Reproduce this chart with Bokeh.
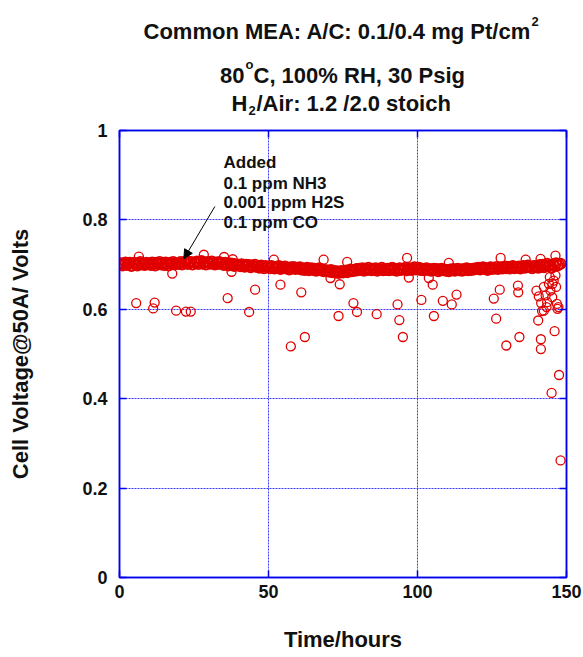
from bokeh.plotting import figure
from bokeh.layouts import column
from bokeh.models import FixedTicker, LinearAxis, Label, Arrow, NormalHead, Range1d
from bokeh.embed import file_html
from bokeh.resources import INLINE
import numpy as np

# ---------------- data ----------------
# dense logged trace, one reading every half hour (0 ... 148 h)
band_hours = np.arange(0, 148.5, 0.5)
band_volts = [
    0.700, 0.703, 0.698, 0.702, 0.705, 0.699, 0.701, 0.704, 0.697, 0.702, 0.704, 0.700, 0.698, 0.703, 0.706, 0.700, 0.702, 0.699, 0.704, 0.701,
    0.703, 0.699, 0.705, 0.701, 0.698, 0.704, 0.702, 0.706, 0.700, 0.703, 0.699, 0.705, 0.702, 0.698, 0.704, 0.701, 0.706, 0.700, 0.703, 0.702,
    0.702, 0.706, 0.700, 0.705, 0.703, 0.708, 0.701, 0.704, 0.706, 0.700, 0.705, 0.703, 0.707, 0.701, 0.704, 0.708, 0.702, 0.705, 0.700, 0.706,
    0.705, 0.702, 0.707, 0.703, 0.700, 0.705, 0.702, 0.706, 0.701, 0.703, 0.699, 0.704, 0.701, 0.698, 0.703, 0.700, 0.702, 0.697, 0.701, 0.699,
    0.700, 0.696, 0.701, 0.698, 0.695, 0.700, 0.697, 0.699, 0.694, 0.698, 0.696, 0.700, 0.695, 0.697, 0.693, 0.698, 0.696, 0.692, 0.697, 0.695,
    0.696, 0.692, 0.697, 0.694, 0.691, 0.695, 0.693, 0.697, 0.690, 0.694, 0.692, 0.696, 0.691, 0.693, 0.689, 0.694, 0.692, 0.695, 0.690, 0.692,
    0.691, 0.694, 0.689, 0.692, 0.688, 0.691, 0.693, 0.687, 0.690, 0.692, 0.688, 0.691, 0.686, 0.689, 0.692, 0.687, 0.689, 0.685, 0.688, 0.686,
    0.687, 0.684, 0.688, 0.683, 0.686, 0.682, 0.685, 0.681, 0.684, 0.686, 0.682, 0.685, 0.687, 0.683, 0.686, 0.689, 0.685, 0.688, 0.686, 0.690,
    0.687, 0.691, 0.688, 0.692, 0.686, 0.690, 0.688, 0.693, 0.689, 0.687, 0.691, 0.688, 0.692, 0.686, 0.690, 0.689, 0.693, 0.687, 0.690, 0.688,
    0.691, 0.687, 0.690, 0.693, 0.688, 0.691, 0.686, 0.690, 0.692, 0.688, 0.691, 0.689, 0.693, 0.687, 0.690, 0.692, 0.688, 0.691, 0.694, 0.689,
    0.690, 0.693, 0.688, 0.691, 0.687, 0.690, 0.692, 0.688, 0.690, 0.686, 0.689, 0.691, 0.687, 0.690, 0.685, 0.688, 0.691, 0.687, 0.689, 0.686,
    0.688, 0.685, 0.689, 0.687, 0.690, 0.686, 0.688, 0.691, 0.687, 0.689, 0.686, 0.690, 0.688, 0.692, 0.687, 0.690, 0.688, 0.691, 0.689, 0.692,
    0.690, 0.693, 0.689, 0.691, 0.694, 0.690, 0.692, 0.688, 0.691, 0.694, 0.690, 0.693, 0.691, 0.695, 0.690, 0.692, 0.694, 0.691, 0.693, 0.696,
    0.692, 0.695, 0.691, 0.694, 0.697, 0.692, 0.695, 0.693, 0.696, 0.691, 0.694, 0.697, 0.693, 0.695, 0.698, 0.694, 0.696, 0.692, 0.697, 0.695,
    0.697, 0.693, 0.699, 0.695, 0.700, 0.694, 0.698, 0.702, 0.696, 0.699, 0.693, 0.701, 0.697, 0.703, 0.698, 0.700, 0.702,
]

# scattered readings away from the main trace
out_hours = [
    5.6, 11.8, 11.3, 17.7, 19.0, 22.3, 23.9, 36.3, 37.6, 43.5, 45.5, 54.0, 57.5, 61.0, 62.2,
    70.8, 73.5, 73.9, 78.5, 79.7, 86.3, 93.3, 93.9, 95.1, 97.1, 101.3, 103.8, 105.1, 105.5,
    108.5, 111.5, 113.1, 125.6, 126.4, 127.6, 129.8, 133.7, 133.8, 134.2, 139.9, 140.5, 140.7,
    141.4, 141.4, 141.5, 141.8, 142.4, 143.0, 143.3, 143.5, 144.1, 144.4, 144.6, 145.0, 145.2,
    145.3, 145.7, 146.0, 146.3, 146.5, 146.8, 147.3, 147.5, 148.0, 142.4, 147.0,
    6.5, 28.3, 35.1, 38.0, 51.8, 68.5, 76.4, 96.5, 110.5, 127.9, 136.3, 141.3, 146.3,
]
out_volts = [
    0.614, 0.615, 0.602, 0.680, 0.597, 0.595, 0.595, 0.625, 0.684, 0.594, 0.644, 0.655, 0.517, 0.638, 0.538,
    0.670, 0.585, 0.656, 0.614, 0.594, 0.589, 0.611, 0.576, 0.538, 0.671, 0.621, 0.670, 0.655, 0.585,
    0.619, 0.611, 0.633, 0.624, 0.579, 0.644, 0.519, 0.653, 0.638, 0.538, 0.642, 0.575, 0.629,
    0.533, 0.511, 0.614, 0.596, 0.650, 0.631, 0.605, 0.616, 0.657, 0.672, 0.642, 0.413, 0.627,
    0.657, 0.664, 0.551, 0.676, 0.650, 0.612, 0.605, 0.453, 0.262, 0.597, 0.601,
    0.718, 0.722, 0.717, 0.712, 0.711, 0.711, 0.706, 0.715, 0.704, 0.715, 0.711, 0.713, 0.720,
]

x_ticks = [0, 50, 100, 150]
x_tick_labels = ["0", "50", "100", "150"]
y_ticks = [0, 0.2, 0.4, 0.6, 0.8, 1]
y_tick_labels = ["0", "0.2", "0.4", "0.6", "0.8", "1"]

x_title = "Time/hours"
y_title = "Cell Voltage@50A/ Volts"
note_lines = ["Added", "0.1 ppm NH3", "0.001 ppm H2S", "0.1 ppm CO"]

# ---------------- styling ----------------
FONT = "Liberation Sans"
BLUE = "#0000ee"
GRID = "#3a3aff"
RED = "#e00000"
INK = "#111111"
LEFT, RIGHT = 119, 17
TITLE_H = 119

# ---- title block (own small figure; x in canvas pixels, y in pixels from top) ----
t = figure(width=583, height=TITLE_H, x_range=Range1d(LEFT, 583 - RIGHT),
           y_range=Range1d(TITLE_H, 0),
           output_backend="svg", toolbar_location=None, x_axis_type=None, y_axis_type=None,
           min_border_left=LEFT, min_border_right=RIGHT, min_border_top=0, min_border_bottom=0)
t.outline_line_color = None
t.grid.visible = False

def tlabel(x, y, text, size="22px", align="left"):
    t.add_layout(Label(x=x, y=y, text=text, text_font=FONT, text_font_style="bold",
                       text_font_size=size, text_color=INK, text_align=align,
                       text_baseline="alphabetic"))

tlabel(143, 31, "Common MEA: A/C: 0.1/0.4 mg Pt/cm")
tlabel(531, 21, "2", size="13px")
tlabel(244, 75, "80", align="right")
tlabel(245, 64, "o", size="13px")
tlabel(253, 75, "C, 100% RH, 30 Psig")
tlabel(231, 103, "H")
tlabel(248, 110, "2", size="13px")
tlabel(256, 103, "/Air: 1.2 /2.0 stoich")

# ---- main plot ----
p = figure(width=583, height=657 - TITLE_H, x_range=Range1d(0, 150), y_range=Range1d(0, 1),
           output_backend="svg", toolbar_location=None,
           min_border_left=LEFT, min_border_right=RIGHT, min_border_top=130 - TITLE_H,
           min_border_bottom=80)
p.background_fill_color = "white"
p.border_fill_color = "white"
p.outline_line_color = BLUE
p.outline_line_width = 1.5

def style_axis(ax, ticks, show_labels):
    ax.ticker = FixedTicker(ticks=ticks)
    ax.axis_line_color = BLUE
    ax.axis_line_width = 1.5
    ax.major_tick_line_color = BLUE
    ax.major_tick_line_width = 1.5
    ax.major_tick_in = 7
    ax.major_tick_out = 0
    ax.minor_tick_line_color = None
    ax.major_label_text_font = FONT
    ax.major_label_text_font_style = "bold"
    if show_labels:
        ax.major_label_text_font_size = "18px"
        ax.major_label_text_color = INK
    else:
        ax.major_label_text_font_size = "1px"
        ax.major_label_text_color = None
        ax.major_label_standoff = 0

xa = p.xaxis[0]
ya = p.yaxis[0]
style_axis(xa, x_ticks, True)
style_axis(ya, y_ticks, True)
xa.major_label_overrides = {tk: s for tk, s in zip(x_ticks, x_tick_labels)}
ya.major_label_overrides = {tk: s for tk, s in zip(y_ticks, y_tick_labels)}
xa.major_label_standoff = 7
ya.major_label_standoff = 12

xa.axis_label = x_title
ya.axis_label = y_title
for ax in (xa, ya):
    ax.axis_label_text_font = FONT
    ax.axis_label_text_font_style = "bold"
    ax.axis_label_text_font_size = "22px"
    ax.axis_label_text_color = INK
xa.axis_label_standoff = 26
ya.axis_label_standoff = 46

top_ax = LinearAxis()
style_axis(top_ax, x_ticks, False)
right_ax = LinearAxis()
style_axis(right_ax, y_ticks, False)
p.add_layout(top_ax, "above")
p.add_layout(right_ax, "right")

p.xgrid.ticker = FixedTicker(ticks=[50, 100])
p.ygrid.ticker = FixedTicker(ticks=[0.2, 0.4, 0.6, 0.8])
for g in (p.xgrid, p.ygrid):
    g.grid_line_color = GRID
    g.grid_line_dash = "2 1"
    g.grid_line_width = 1

# data
p.scatter(band_hours, band_volts, marker="circle", size=10, fill_color=None,
          line_color=RED, line_width=1.9)
p.scatter(out_hours, out_volts, marker="circle", size=9, fill_color=None,
          line_color=RED, line_width=1.3)

# annotation text + arrow (placed in data units)
note_y = [0.9277, 0.8821, 0.8383, 0.7949]
for txt, yy in zip(note_lines, note_y):
    p.add_layout(Label(x=34.9, y=yy, text=txt, text_font=FONT, text_font_style="bold",
                       text_font_size="17px", text_color=INK, text_baseline="alphabetic"))
p.add_layout(Arrow(end=NormalHead(size=9, fill_color="black", line_color="black"),
                   x_start=32.0, y_start=0.830, x_end=21.6, y_end=0.713,
                   line_color="black", line_width=1))

layout = column(t, p, spacing=0)
open("out.html", "w").write(file_html(layout, INLINE))
